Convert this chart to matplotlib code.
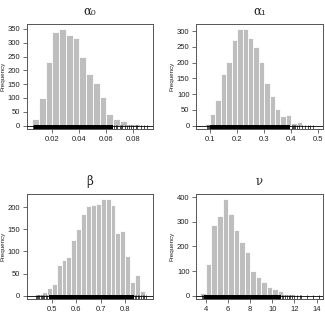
"""Posterior histograms with rug for four model parameters (R-style)."""
import numpy as np
import matplotlib
matplotlib.use("Agg")
import matplotlib.pyplot as plt
import matplotlib.transforms as mtransforms

plt.rcParams['font.family'] = ['Liberation Sans', 'DejaVu Sans']

# ---- data ----
alpha0_edges = np.arange(0.005, 0.0901, 0.005)
alpha0_counts = [23, 101, 231, 340, 350, 329, 317, 250, 186, 156, 105, 41, 25, 17, 6, 5, 2]
alpha0_rug_dense = (0.0065, 0.0652)
alpha0_rug = [0.0058, 0.0062, 0.066, 0.067, 0.068, 0.070, 0.071, 0.072, 0.074, 0.075,
              0.077, 0.078, 0.080, 0.082, 0.083, 0.086, 0.088, 0.090]

alpha1_edges = np.arange(0.08, 0.4401, 0.02)
alpha1_counts = [5, 37, 81, 163, 201, 271, 306, 308, 277, 250, 203, 134, 94, 53, 32, 34, 9, 11]
alpha1_rug_dense = (0.098, 0.397)
alpha1_rug = [0.087, 0.091, 0.095, 0.401, 0.405, 0.41, 0.415, 0.42, 0.43, 0.44,
              0.45, 0.46, 0.47, 0.48]

beta_edges = np.arange(0.44, 0.8801, 0.02)
beta_counts = [4, 9, 18, 26, 69, 80, 88, 125, 151, 184, 202, 204, 207, 219, 219, 204,
               141, 146, 90, 32, 46, 10]
beta_rug_dense = (0.49, 0.835)
beta_rug = [0.435, 0.44, 0.445, 0.45, 0.455, 0.46, 0.465, 0.47, 0.475, 0.48, 0.487,
            0.84, 0.845, 0.852, 0.858, 0.865, 0.872, 0.878, 0.885]

nu_edges = np.arange(3.5, 12.51, 0.5)
nu_counts = [12, 130, 285, 325, 390, 330, 265, 218, 177, 100, 75, 55, 35, 28, 18, 8, 7, 2]
nu_rug_dense = (3.85, 10.8)
nu_rug = [3.6, 3.7, 3.78, 10.9, 11.0, 11.1, 11.3, 11.5, 11.6, 11.8, 12.0, 12.2, 12.5,
          12.6, 13.1, 13.7, 14.2]

panels = [
    dict(title='α₀', edges=alpha0_edges, counts=alpha0_counts,
         dense=alpha0_rug_dense, rug=alpha0_rug,
         xlim=(0.001, 0.0944), ylim=(-13.5, 367),
         xticks=[0.02, 0.04, 0.06, 0.08], yticks=np.arange(0, 351, 50)),
    dict(title='α₁', edges=alpha1_edges, counts=alpha1_counts,
         dense=alpha1_rug_dense, rug=alpha1_rug,
         xlim=(0.048, 0.516), ylim=(-11.5, 322),
         xticks=[0.1, 0.2, 0.3, 0.4, 0.5], yticks=np.arange(0, 301, 50)),
    dict(title='β', edges=beta_edges, counts=beta_counts,
         dense=beta_rug_dense, rug=beta_rug,
         xlim=(0.398, 0.912), ylim=(-7.5, 229),
         xticks=[0.5, 0.6, 0.7, 0.8], yticks=np.arange(0, 201, 50)),
    dict(title='ν', edges=nu_edges, counts=nu_counts,
         dense=nu_rug_dense, rug=nu_rug,
         xlim=(3.1, 14.55), ylim=(-13.5, 411),
         xticks=[4, 6, 8, 10, 12, 14], yticks=np.arange(0, 401, 100)),
]

W, H = 325, 320
fig = plt.figure(figsize=(W / 100, H / 100), dpi=100)

# axes boxes in pixels: left, top, right, bottom
boxes = [(26.7, 24.3, 152.7, 129.3), (196, 24.3, 322.7, 129.3),
         (26.7, 194.3, 152.7, 299), (196, 194.3, 322.7, 299)]

frame_col = '#555555'
for p, (l, t, r, b) in zip(panels, boxes):
    ax = fig.add_axes([l / W, 1 - b / H, (r - l) / W, (b - t) / H])
    edges = p['edges']
    widths = np.diff(edges)
    ax.bar(edges[:-1], p['counts'], width=widths, align='edge',
           color='#BEBEBE', edgecolor='white', linewidth=0.6, zorder=2)
    ax.axhline(0, color='#222222', lw=0.7, zorder=3)

    # rug along the bottom of the box
    trans = mtransforms.blended_transform_factory(ax.transData, ax.transAxes)
    y0 = 0.0
    y1 = (0 - p['ylim'][0]) / (p['ylim'][1] - p['ylim'][0]) + 0.008
    ax.fill_between(list(p['dense']), y0, y1, transform=trans,
                    color='black', lw=0, zorder=4)
    ax.vlines(p['rug'], y0, y1, transform=trans, color='black', lw=0.5, zorder=4)

    ax.set_xlim(*p['xlim'])
    ax.set_ylim(*p['ylim'])
    ax.set_xticks(p['xticks'])
    ax.set_xticklabels([f'{v:g}' for v in p['xticks']])
    ax.set_yticks(p['yticks'])
    ax.tick_params(labelsize=5.5, length=3.2, width=0.5, color='#333333',
                   labelcolor='#222222', pad=1.5)
    for s in ax.spines.values():
        s.set_color(frame_col)
        s.set_linewidth(0.7)

    ax.text(0.5, 1.12, p['title'], transform=ax.transAxes, ha='center',
            va='center', fontsize=8.5, color='#222222', family=['DejaVu Serif'])
    ax.text(-24 / 126, 0.5, 'Frequency', transform=ax.transAxes, rotation=90,
            ha='center', va='center', fontsize=4.5, color='#222222')

fig.savefig('out.png', dpi=100, facecolor='white')
